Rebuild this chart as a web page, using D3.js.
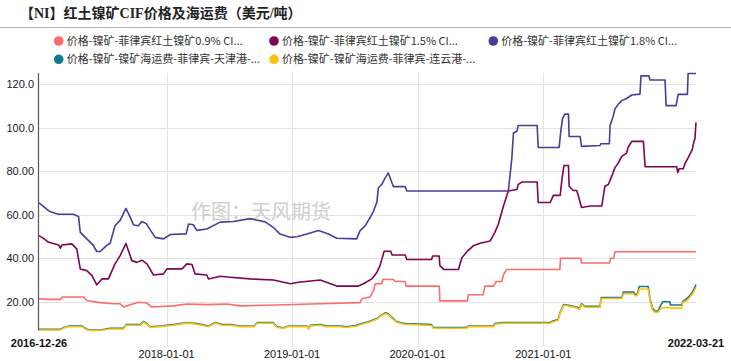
<!DOCTYPE html>
<html>
<head>
<meta charset="utf-8">
<script src="https://cdn.jsdelivr.net/npm/d3@7"></script>
<style>
  body { margin: 0; background: #fff; }
  svg { display: block; font-family: "Liberation Sans", Arial, "Noto Sans CJK SC", sans-serif; }
</style>
</head>
<body>
<svg id="chart" width="731" height="361"></svg>
<script>
var title = '【NI】红土镍矿CIF价格及海运费（美元/吨）';
var legendNames = [
    '价格-镍矿-菲律宾红土镍矿0.9% CI...',
    '价格-镍矿-菲律宾红土镍矿1.5% CI...',
    '价格-镍矿-菲律宾红土镍矿1.8% CI...',
    '价格-镍矿-镍矿海运费-菲律宾-天津港-...',
    '价格-镍矿-镍矿海运费-菲律宾-连云港-...'
];
var colors = ['#ff6b6b', '#7d0552', '#4b3c9c', '#14798a', '#ffc20e'];
var yTicks = [20, 40, 60, 80, 100, 120];
var yTickLabels = ['20.00', '40.00', '60.00', '80.00', '100.0', '120.0'];
var xTicks = ['2018-01-01', '2019-01-01', '2020-01-01', '2021-01-01'];
var xEnds = ['2016-12-26', '2022-03-21'];

// 0.9% CIF
var ni09 = [
    ['2016-12-26', 21.5], ['2017-01-23', 21.2], ['2017-02-26', 21.2], ['2017-03-04', 22.3],
    ['2017-05-05', 22.3], ['2017-05-14', 20.7], ['2017-06-22', 19.7], ['2017-07-31', 19.2],
    ['2017-08-19', 19.2], ['2017-08-29', 17.7], ['2017-09-17', 18.7], ['2017-10-12', 19.9],
    ['2017-11-05', 19.5], ['2017-11-19', 17.7], ['2018-01-21', 18.2], ['2018-03-01', 19.1],
    ['2018-04-28', 18.8], ['2018-06-26', 19.1], ['2018-08-03', 18.2], ['2018-09-21', 18.4],
    ['2019-03-24', 19.2], ['2019-07-18', 19.7], ['2019-07-23', 21.5], ['2019-08-16', 22.3],
    ['2019-08-26', 25.3], ['2019-08-31', 28.4], ['2019-09-19', 28.4], ['2019-09-22', 30.3],
    ['2019-10-23', 30.3], ['2019-10-28', 29.4], ['2019-11-26', 29.4], ['2019-11-29', 27.3],
    ['2020-03-04', 27.3], ['2020-03-06', 20.5], ['2020-05-25', 20.5], ['2020-05-28', 23.3],
    ['2020-07-10', 23.3], ['2020-07-15', 27.3], ['2020-08-09', 27.3], ['2020-08-17', 29.4],
    ['2020-09-02', 29.4], ['2020-09-07', 32.5], ['2020-09-16', 34.9], ['2021-02-18', 34.9],
    ['2021-02-20', 40.1], ['2021-04-20', 40.1], ['2021-04-22', 37.9], ['2021-07-12', 37.9],
    ['2021-07-16', 40.1], ['2021-07-25', 40.1], ['2021-07-28', 43.1], ['2022-03-21', 43.1]
];
// 1.5% CIF
var ni15 = [
    ['2016-12-26', 50.5], ['2017-01-08', 49.2], ['2017-01-23', 47.4], ['2017-02-21', 46.2],
    ['2017-02-26', 44.7], ['2017-03-03', 46.2], ['2017-04-01', 46.7], ['2017-04-15', 44.3],
    ['2017-04-25', 35.2], ['2017-05-14', 34.4], ['2017-05-29', 32.1], ['2017-06-12', 27.9],
    ['2017-06-27', 30.6], ['2017-07-16', 30.6], ['2017-08-04', 37.5], ['2017-08-19', 41.3],
    ['2017-09-05', 46.9], ['2017-09-22', 39.0], ['2017-10-07', 38.2], ['2017-10-21', 39.2],
    ['2017-11-05', 37.5], ['2017-11-24', 32.4], ['2017-12-23', 32.9], ['2018-01-02', 35.2],
    ['2018-02-15', 35.2], ['2018-03-01', 37.5], ['2018-03-16', 37.2], ['2018-03-25', 32.9],
    ['2018-04-28', 32.4], ['2018-05-03', 30.6], ['2018-06-06', 31.8], ['2018-07-05', 31.4],
    ['2018-09-01', 30.6], ['2018-11-08', 30.1], ['2018-12-27', 28.4], ['2019-01-20', 29.1],
    ['2019-03-24', 30.1], ['2019-05-11', 27.3], ['2019-07-13', 27.3], ['2019-07-28', 28.4],
    ['2019-08-21', 30.6], ['2019-09-05', 33.7], ['2019-09-14', 36.7], ['2019-09-26', 43.3],
    ['2019-10-15', 43.3], ['2019-10-19', 41.6], ['2019-11-26', 41.6], ['2019-12-01', 39.5],
    ['2020-02-11', 39.5], ['2020-02-14', 41.1], ['2020-03-04', 41.1], ['2020-03-06', 36.7],
    ['2020-03-18', 34.9], ['2020-04-29', 34.9], ['2020-05-09', 40.3], ['2020-05-23', 43.0],
    ['2020-06-11', 45.8], ['2020-07-01', 47.0], ['2020-07-30', 48.0], ['2020-08-13', 52.0],
    ['2020-08-23', 55.7], ['2020-09-07', 64.1], ['2020-09-21', 71.0], ['2020-10-16', 71.7],
    ['2020-10-20', 74.0], ['2020-10-30', 75.1], ['2020-12-14', 75.1], ['2020-12-17', 65.7],
    ['2021-01-21', 65.7], ['2021-01-30', 69.0], ['2021-02-19', 69.0], ['2021-02-24', 76.3],
    ['2021-03-02', 82.7], ['2021-03-15', 82.7], ['2021-03-17', 73.2], ['2021-03-29', 71.2],
    ['2021-04-08', 71.2], ['2021-04-13', 68.7], ['2021-04-22', 63.4], ['2021-05-17', 64.1],
    ['2021-06-20', 64.1], ['2021-06-29', 73.2], ['2021-07-09', 74.0], ['2021-07-19', 77.8],
    ['2021-07-28', 81.6], ['2021-08-07', 83.9], ['2021-08-17', 86.9], ['2021-08-31', 88.4],
    ['2021-09-05', 91.2], ['2021-09-15', 93.8], ['2021-10-19', 93.8], ['2021-10-24', 82.1],
    ['2022-01-24', 82.1], ['2022-01-27', 79.4], ['2022-01-31', 81.2], ['2022-02-12', 81.2],
    ['2022-02-17', 83.6], ['2022-02-26', 86.2], ['2022-03-10', 90.0], ['2022-03-15', 93.8],
    ['2022-03-18', 95.0], ['2022-03-21', 102.5]
];
// 1.8% CIF
var ni18 = [
    ['2016-12-26', 65.5], ['2017-01-07', 64.0], ['2017-01-18', 62.5], ['2017-01-28', 61.5],
    ['2017-02-21', 60.3], ['2017-04-05', 60.3], ['2017-04-20', 59.3], ['2017-04-25', 52.0],
    ['2017-05-14', 49.0], ['2017-06-02', 46.0], ['2017-06-12', 43.2], ['2017-06-22', 43.2],
    ['2017-07-11', 46.0], ['2017-07-21', 47.0], ['2017-08-04', 55.0], ['2017-08-19', 57.5],
    ['2017-09-05', 63.0], ['2017-09-17', 59.0], ['2017-09-27', 55.4], ['2017-10-11', 55.0],
    ['2017-10-21', 57.0], ['2017-11-03', 56.0], ['2017-11-15', 53.0], ['2017-11-29', 49.7],
    ['2017-12-23', 49.0], ['2018-01-12', 51.0], ['2018-02-27', 51.3], ['2018-03-06', 55.8],
    ['2018-03-20', 55.5], ['2018-03-30', 52.9], ['2018-04-28', 53.5], ['2018-06-06', 56.7],
    ['2018-07-14', 57.0], ['2018-09-01', 58.3], ['2018-09-10', 58.0], ['2018-10-15', 56.8],
    ['2018-11-08', 54.2], ['2018-11-27', 51.2], ['2018-12-27', 49.7], ['2019-01-15', 50.0],
    ['2019-02-13', 51.2], ['2019-03-19', 52.8], ['2019-04-17', 51.2], ['2019-05-11', 49.3],
    ['2019-07-08', 49.0], ['2019-07-18', 52.8], ['2019-08-02', 55.1], ['2019-08-16', 58.8],
    ['2019-08-26', 61.8], ['2019-09-05', 66.0], ['2019-09-09', 72.5], ['2019-09-19', 74.0],
    ['2019-09-29', 77.0], ['2019-10-08', 79.3], ['2019-10-18', 75.0], ['2019-10-23', 73.0],
    ['2019-11-26', 73.0], ['2019-12-01', 71.0], ['2020-09-21', 71.0], ['2020-10-01', 85.4],
    ['2020-10-06', 97.6], ['2020-10-16', 98.4], ['2020-10-20', 101.1], ['2020-12-14', 101.1],
    ['2020-12-17', 91.0], ['2021-02-16', 91.0], ['2021-02-21', 99.0], ['2021-02-26', 104.4],
    ['2021-03-05', 106.3], ['2021-03-15', 106.3], ['2021-03-17', 96.0], ['2021-04-18', 96.0],
    ['2021-04-22', 91.5], ['2021-06-15', 91.9], ['2021-06-17', 92.7], ['2021-07-12', 92.7],
    ['2021-07-14', 101.1], ['2021-07-23', 105.2], ['2021-07-28', 108.6], ['2021-08-07', 110.9],
    ['2021-08-17', 112.5], ['2021-08-31', 113.5], ['2021-09-15', 115.1], ['2021-10-09', 115.5],
    ['2021-10-12', 123.9], ['2021-11-04', 123.9], ['2021-11-07', 122.0], ['2021-12-21', 122.0],
    ['2021-12-24', 110.2], ['2022-01-22', 110.2], ['2022-01-28', 115.4], ['2022-02-24', 115.4],
    ['2022-02-26', 125.0], ['2022-03-21', 125.0]
];
// freight to Tianjin
var frTianjin = [
    ['2016-12-26', 7.4], ['2017-02-26', 7.4], ['2017-03-09', 8.3], ['2017-03-22', 8.9],
    ['2017-04-30', 8.9], ['2017-05-13', 7.6], ['2017-05-24', 7.1], ['2017-06-22', 7.1],
    ['2017-07-21', 7.9], ['2017-08-29', 7.9], ['2017-09-05', 9.6], ['2017-10-16', 9.6],
    ['2017-10-26', 11.1], ['2017-11-05', 9.9], ['2017-11-14', 8.6], ['2017-12-14', 9.0],
    ['2018-01-21', 9.6], ['2018-03-01', 10.6], ['2018-03-30', 10.1], ['2018-05-03', 8.9],
    ['2018-05-23', 10.6], ['2018-06-11', 9.6], ['2018-07-05', 9.6], ['2018-08-03', 9.0],
    ['2018-09-13', 9.0], ['2018-09-21', 10.5], ['2018-11-08', 10.5], ['2018-11-18', 8.6],
    ['2018-12-07', 8.2], ['2018-12-22', 9.0], ['2019-02-13', 9.0], ['2019-02-18', 7.9],
    ['2019-02-23', 9.3], ['2019-03-24', 9.6], ['2019-04-12', 8.9], ['2019-05-21', 8.9],
    ['2019-06-09', 8.6], ['2019-07-08', 9.3], ['2019-07-23', 10.1], ['2019-08-11', 10.9],
    ['2019-09-05', 12.4], ['2019-09-14', 13.6], ['2019-09-29', 15.0], ['2019-10-08', 14.6],
    ['2019-10-18', 13.0], ['2019-11-02', 10.9], ['2019-11-26', 10.1], ['2020-02-11', 9.6],
    ['2020-02-16', 8.3], ['2020-05-23', 8.3], ['2020-05-28', 9.0], ['2020-08-09', 9.0],
    ['2020-08-13', 10.1], ['2020-09-07', 10.6], ['2021-01-21', 10.6], ['2021-01-26', 11.1],
    ['2021-02-13', 12.0], ['2021-02-19', 15.4], ['2021-03-01', 18.8], ['2021-03-15', 18.5],
    ['2021-04-08', 17.7], ['2021-04-16', 16.9], ['2021-04-22', 19.2], ['2021-05-02', 18.0],
    ['2021-06-15', 18.0], ['2021-06-18', 22.0], ['2021-08-17', 22.0], ['2021-08-22', 24.6],
    ['2021-09-20', 24.6], ['2021-09-25', 23.5], ['2021-10-01', 23.5], ['2021-10-07', 27.1],
    ['2021-11-02', 27.1], ['2021-11-07', 21.5], ['2021-11-15', 17.0], ['2021-11-22', 15.8],
    ['2021-12-01', 15.8], ['2021-12-06', 17.7], ['2021-12-14', 20.1], ['2022-01-04', 20.1],
    ['2022-01-06', 18.6], ['2022-02-07', 18.6], ['2022-02-12', 20.4], ['2022-02-22', 21.5],
    ['2022-03-03', 22.9], ['2022-03-13', 25.2], ['2022-03-21', 28.0]
];
// freight to Lianyungang
var frLianyungang = [
    ['2016-12-26', 7.1], ['2017-02-26', 7.1], ['2017-03-09', 8.0], ['2017-03-22', 8.6],
    ['2017-04-30', 8.6], ['2017-05-13', 7.3], ['2017-05-24', 6.9], ['2017-06-22', 6.9],
    ['2017-07-21', 7.6], ['2017-08-29', 7.6], ['2017-09-05', 9.3], ['2017-10-16', 9.3],
    ['2017-10-26', 10.8], ['2017-11-05', 9.6], ['2017-11-14', 8.3], ['2017-12-14', 8.7],
    ['2018-01-21', 9.3], ['2018-03-01', 10.3], ['2018-03-30', 9.8], ['2018-05-03', 8.6],
    ['2018-05-23', 10.3], ['2018-06-11', 9.3], ['2018-07-05', 9.3], ['2018-08-03', 8.7],
    ['2018-09-13', 8.7], ['2018-09-21', 10.2], ['2018-11-08', 10.2], ['2018-11-18', 8.3],
    ['2018-12-07', 7.9], ['2018-12-22', 8.7], ['2019-02-13', 8.7], ['2019-02-18', 7.6],
    ['2019-02-23', 9.0], ['2019-03-24', 9.3], ['2019-04-12', 8.6], ['2019-05-21', 8.6],
    ['2019-06-09', 8.3], ['2019-07-08', 9.0], ['2019-07-23', 9.8], ['2019-08-11', 10.6],
    ['2019-09-05', 12.1], ['2019-09-14', 13.3], ['2019-09-29', 14.6], ['2019-10-08', 14.2],
    ['2019-10-18', 12.6], ['2019-11-02', 10.6], ['2019-11-26', 9.8], ['2020-02-11', 9.2],
    ['2020-02-16', 7.9], ['2020-05-23', 7.9], ['2020-05-28', 8.7], ['2020-08-09', 8.7],
    ['2020-08-13', 9.7], ['2020-09-07', 10.2], ['2021-01-21', 10.2], ['2021-01-26', 10.7],
    ['2021-02-13', 11.6], ['2021-02-19', 15.0], ['2021-03-01', 18.5], ['2021-03-15', 18.1],
    ['2021-04-08', 17.3], ['2021-04-16', 16.5], ['2021-04-22', 18.8], ['2021-05-02', 17.6],
    ['2021-06-15', 17.6], ['2021-06-18', 21.6], ['2021-08-17', 21.6], ['2021-08-22', 23.8],
    ['2021-09-20', 23.8], ['2021-09-25', 22.9], ['2021-10-01', 22.9], ['2021-10-07', 26.0],
    ['2021-11-02', 26.0], ['2021-11-07', 20.8], ['2021-11-15', 16.2], ['2021-11-22', 15.3],
    ['2021-12-01', 15.3], ['2021-12-06', 16.5], ['2021-12-14', 17.4], ['2022-01-04', 17.4],
    ['2022-01-06', 17.2], ['2022-02-07', 17.2], ['2022-02-12', 20.0], ['2022-02-22', 20.4],
    ['2022-03-03', 22.2], ['2022-03-13', 24.2], ['2022-03-21', 26.8]
];

var allSeries = [ni09, ni15, ni18, frTianjin, frLianyungang];

document.addEventListener('DOMContentLoaded', function () {
    drawChart();
});

function drawChart() {
    const svg = d3.select('#chart');
    const parse = d3.timeParse('%Y-%m-%d');

    const margin = { top: 73, bottom: 30, left: 39, right: 35 };
    const width = 731, height = 361;

    const x = d3.scaleTime()
        .domain([parse(xEnds[0]), parse(xEnds[1])])
        .range([margin.left, width - margin.right]);
    const y = d3.scaleLinear()
        .domain([6.9, 125.2])
        .range([height - margin.bottom - 0.5, margin.top]);

    // title + separator
    svg.append('text')
        .attr('x', 20).attr('y', 18)
        .attr('font-family', '"Liberation Serif", "Noto Sans CJK SC", serif')
        .attr('font-weight', 'bold')
        .attr('font-size', 14)
        .attr('fill', '#222')
        .text(title);
    svg.append('line')
        .attr('x1', 0).attr('x2', width)
        .attr('y1', 27.5).attr('y2', 27.5)
        .attr('stroke', '#b4b4b4').attr('stroke-width', 1);

    // legend
    const legX = [58.7, 274, 493.3];
    const legY = [41, 59.3];
    const leg = svg.append('g')
        .selectAll('g')
        .data(legendNames)
        .enter()
        .append('g')
        .attr('transform', (d, i) => `translate(${legX[i % 3]},${legY[Math.floor(i / 3)]})`);
    leg.append('circle')
        .attr('r', 4.8)
        .attr('fill', (d, i) => colors[i]);
    leg.append('text')
        .attr('x', 8).attr('dy', '0.36em')
        .attr('font-family', '"Noto Sans CJK SC", "Liberation Sans", sans-serif')
        .attr('font-size', 11)
        .attr('fill', '#333')
        .text(d => d);

    // grid
    const grid = svg.append('g');
    grid.selectAll('.hg')
        .data(yTicks)
        .enter()
        .append('line')
        .attr('x1', margin.left).attr('x2', width - margin.right)
        .attr('y1', d => Math.round(y(d)) + 0.5).attr('y2', d => Math.round(y(d)) + 0.5)
        .attr('stroke', '#e3e3e3');
    grid.selectAll('.vg')
        .data(xTicks)
        .enter()
        .append('line')
        .attr('x1', d => Math.round(x(parse(d))) + 0.5).attr('x2', d => Math.round(x(parse(d))) + 0.5)
        .attr('y1', margin.top).attr('y2', 347)
        .attr('stroke', '#e3e3e3');

    // y axis
    const yAxis = d3.axisLeft(y)
        .tickValues(yTicks)
        .tickSize(0)
        .tickPadding(5)
        .tickFormat((d, i) => yTickLabels[i]);
    const ya = svg.append('g')
        .attr('transform', `translate(${margin.left},0)`)
        .call(yAxis);
    ya.select('.domain').remove();
    ya.selectAll('text')
        .attr('font-family', '"Liberation Sans", Arial, sans-serif')
        .attr('font-size', 11)
        .attr('fill', '#1a1a2a');
    svg.append('line')
        .attr('x1', margin.left - 0.5).attr('x2', margin.left - 0.5)
        .attr('y1', margin.top).attr('y2', y.range()[0])
        .attr('stroke', '#555').attr('stroke-width', 1.2);

    // x labels
    svg.append('g').selectAll('text')
        .data(xTicks)
        .enter()
        .append('text')
        .attr('x', d => x(parse(d)))
        .attr('y', 358)
        .attr('text-anchor', 'middle')
        .attr('font-family', '"Liberation Sans", Arial, sans-serif')
        .attr('font-size', 11)
        .attr('fill', '#111')
        .text(d => d);
    svg.append('g').selectAll('text')
        .data(xEnds)
        .enter()
        .append('text')
        .attr('x', d => x(parse(d)))
        .attr('y', 347)
        .attr('text-anchor', 'middle')
        .attr('font-family', '"Liberation Sans", Arial, sans-serif')
        .attr('font-weight', 'bold')
        .attr('font-size', 11)
        .attr('fill', '#111')
        .text(d => d);

    // watermark
    svg.append('text')
        .attr('x', 191).attr('y', 219)
        .attr('font-family', '"Noto Sans CJK SC", sans-serif')
        .attr('font-size', 20)
        .attr('fill', '#c4c4c4')
        .attr('opacity', 0.8)
        .text('作图：天风期货');

    // lines
    const line = d3.line()
        .x(d => x(parse(d[0])))
        .y(d => y(d[1]));
    svg.append('g')
        .selectAll('path')
        .data(allSeries)
        .enter()
        .append('path')
        .attr('d', line)
        .attr('fill', 'none')
        .attr('stroke', (d, i) => colors[i])
        .attr('stroke-width', 1.6)
        .attr('stroke-linejoin', 'round');
}
</script>
</body>
</html>
